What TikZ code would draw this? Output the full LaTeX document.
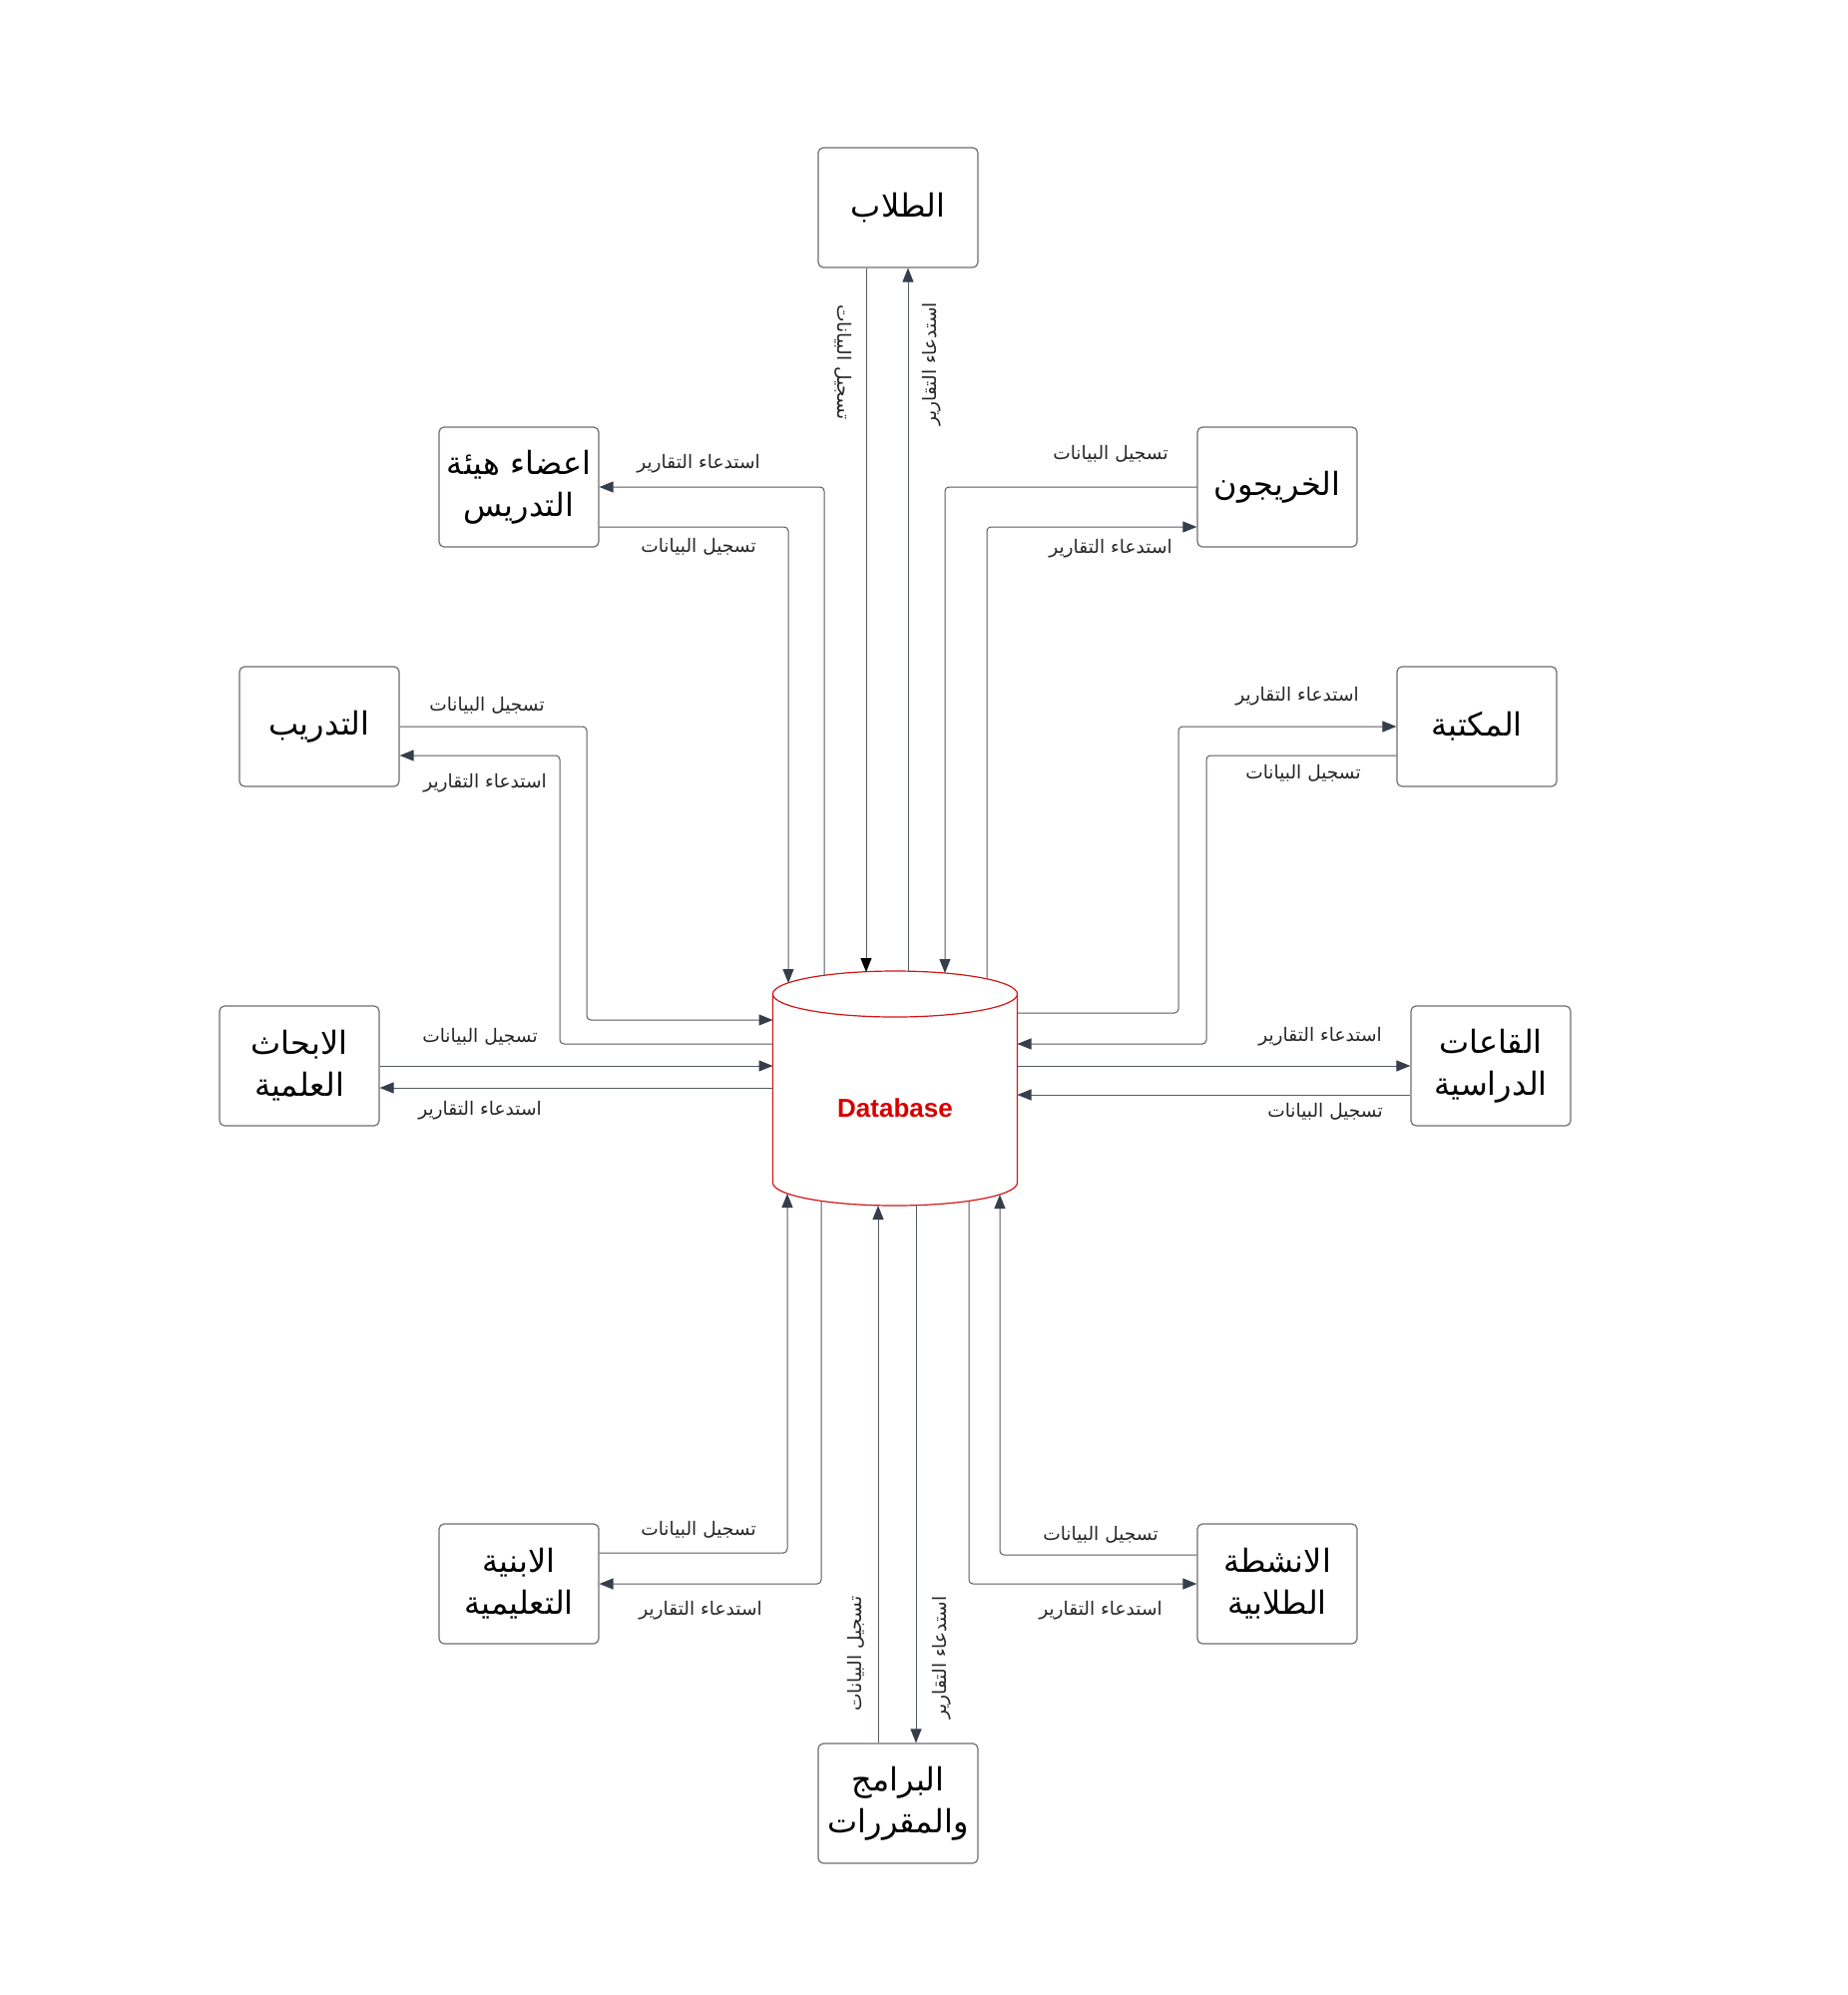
\documentclass[tikz,border=0pt]{standalone}
\usepackage{fontspec}
\setmainfont{Liberation Sans}
\newfontfamily\arabicfont[Script=Arabic]{DejaVu Sans}
\TeXXeTstate=1
\usetikzlibrary{arrows.meta,calc}
\definecolor{boxgray}{RGB}{110,110,110}
\definecolor{linegray}{RGB}{85,90,100}
\definecolor{tipgray}{RGB}{55,62,75}
\definecolor{dbred}{RGB}{215,20,20}
\definecolor{dbtext}{RGB}{215,0,0}
\tikzset{
  entity/.style={draw=boxgray, line width=0.6pt, rounded corners=2.5pt, fill=white,
    minimum width=80pt, minimum height=60pt, align=center, inner sep=2pt,
    font=\arabicfont\fontsize{16}{21}\selectfont},
  flow/.style={draw=linegray, line width=0.5pt, rounded corners=2pt,
    -{Triangle[length=7pt,width=5.5pt,color=tipgray,fill=tipgray]}},
  flowblack/.style={draw=linegray, line width=0.5pt,
    -{Triangle[length=7pt,width=5.5pt,color=black,fill=black]}},
  lbl/.style={font=\arabicfont\fontsize{9.3}{11}\selectfont, inner sep=1pt, text=black!85},
  dbshape/.style={draw=dbred, line width=0.6pt, fill=white}
}
\begin{document}
\begin{tikzpicture}[x=0.5pt,y=-0.5pt]
\useasboundingbox (0,0) rectangle (1852,1999);
\fill[white] (0,0) rectangle (1852,1999);

% database cylinder
\filldraw[dbshape] (774.5,996) -- (774.5,1185)
  arc[start angle=180,end angle=360,x radius=61.25pt,y radius=11.5pt] -- (1019.5,996);
\filldraw[dbshape] (897,996) ellipse [x radius=61.25pt, y radius=11.5pt];
\node[font=\bfseries\fontsize{13}{15}\selectfont, text=dbtext] (db) at (897,1110) {Database};

% entities
\node[entity] (stud)  at (900,208)  {\beginR الطلاب\endR};
\node[entity] (fac)   at (520,488)  {\beginR اعضاء هيئة\endR\\\beginR التدريس\endR};
\node[entity] (grad)  at (1280,488) {\beginR الخريجون\endR};
\node[entity] (train) at (320,728)  {\beginR التدريب\endR};
\node[entity] (lib)   at (1480,728) {\beginR المكتبة\endR};
\node[entity] (res)   at (300,1068) {\beginR الابحاث\endR\\\beginR العلمية\endR};
\node[entity] (halls) at (1494,1068) {\beginR القاعات\endR\\\beginR الدراسية\endR};
\node[entity] (bldg)  at (520,1587) {\beginR الابنية\endR\\\beginR التعليمية\endR};
\node[entity] (act)   at (1280,1587) {\beginR الانشطة\endR\\\beginR الطلابية\endR};
\node[entity] (prog)  at (900,1807) {\beginR البرامج\endR\\\beginR والمقررات\endR};

% points on the database outline
\coordinate (dbT1) at (790,985);
\coordinate (dbT2) at (826,977);
\coordinate (dbT3) at (868,974);
\coordinate (dbT4) at (910,973);
\coordinate (dbT5) at (947,975);
\coordinate (dbT6) at (989,981);
\coordinate (dbL1) at (774.5,1022);
\coordinate (dbL2) at (774.5,1046);
\coordinate (dbL3) at (774.5,1068);
\coordinate (dbL4) at (774.5,1090);
\coordinate (dbR1) at (1019.5,1015);
\coordinate (dbR2) at (1019.5,1046);
\coordinate (dbR3) at (1019.5,1068);
\coordinate (dbR4) at (1019.5,1097);
\coordinate (dbB1) at (789,1196);
\coordinate (dbB2) at (823,1203);
\coordinate (dbB3) at (880,1208);
\coordinate (dbB4) at (918,1208);
\coordinate (dbB5) at (971,1203);
\coordinate (dbB6) at (1002,1197);

% top connectors
\draw[flow] ($(fac.east)+(0,40)$) -| (dbT1);
\draw[flow] (dbT2) |- (fac.east);
\draw[flowblack] (stud.south -| dbT3) -- (dbT3);
\draw[flow] (dbT4) -- (stud.south -| dbT4);
\draw[flow] (grad.west) -| (dbT5);
\draw[flow] (dbT6) |- ($(grad.west)+(0,40)$);

% left connectors
\draw[flow] (train.east) -| (588,1022) -- (dbL1);
\draw[flow] (dbL2) -- (561,1046) |- ($(train.east)+(0,29)$);
\draw[flow] (res.east |- dbL3) -- (dbL3);
\draw[flow] (dbL4) -- (res.east |- dbL4);

% right connectors
\draw[flow] (dbR1) -- (1181,1015) |- (lib.west);
\draw[flow] ($(lib.west)+(0,29)$) -| (1209,1046) -- (dbR2);
\draw[flow] (dbR3) -- (halls.west |- dbR3);
\draw[flow] (halls.west |- dbR4) -- (dbR4);

% bottom connectors
\draw[flow] ($(bldg.east)+(0,-31)$) -| (dbB1);
\draw[flow] (dbB2) |- (bldg.east);
\draw[flow] (prog.north -| dbB3) -- (dbB3);
\draw[flow] (dbB4) -- (prog.north -| dbB4);
\draw[flow] (dbB5) |- (act.west);
\draw[flow] ($(act.west)+(0,-29)$) -| (dbB6);

% labels
\node[lbl] (l1)  at (700,465)  {\beginR استدعاء التقارير\endR};
\node[lbl] (l2)  at (700,548)  {\beginR تسجيل البيانات\endR};
\node[lbl] (l3)  at (1113,455) {\beginR تسجيل البيانات\endR};
\node[lbl] (l4)  at (1113,550) {\beginR استدعاء التقارير\endR};
\node[lbl, rotate=-90] (l5) at (845,363) {\beginR تسجيل البيانات\endR};
\node[lbl, rotate=90]  (l6) at (934,365) {\beginR استدعاء التقارير\endR};
\node[lbl] (l7)  at (488,707)  {\beginR تسجيل البيانات\endR};
\node[lbl] (l8)  at (486,785)  {\beginR استدعاء التقارير\endR};
\node[lbl] (l9)  at (481,1039) {\beginR تسجيل البيانات\endR};
\node[lbl] (l10) at (481,1113) {\beginR استدعاء التقارير\endR};
\node[lbl] (l11) at (1300,698) {\beginR استدعاء التقارير\endR};
\node[lbl] (l12) at (1306,775) {\beginR تسجيل البيانات\endR};
\node[lbl] (l13) at (1323,1039) {\beginR استدعاء التقارير\endR};
\node[lbl] (l14) at (1328,1114) {\beginR تسجيل البيانات\endR};
\node[lbl] (l15) at (700,1533) {\beginR تسجيل البيانات\endR};
\node[lbl] (l16) at (702,1614) {\beginR استدعاء التقارير\endR};
\node[lbl] (l17) at (1103,1538) {\beginR تسجيل البيانات\endR};
\node[lbl] (l18) at (1103,1614) {\beginR استدعاء التقارير\endR};
\node[lbl, rotate=90] (l19) at (858,1657) {\beginR تسجيل البيانات\endR};
\node[lbl, rotate=90] (l20) at (944,1661) {\beginR استدعاء التقارير\endR};
\end{tikzpicture}
\end{document}
